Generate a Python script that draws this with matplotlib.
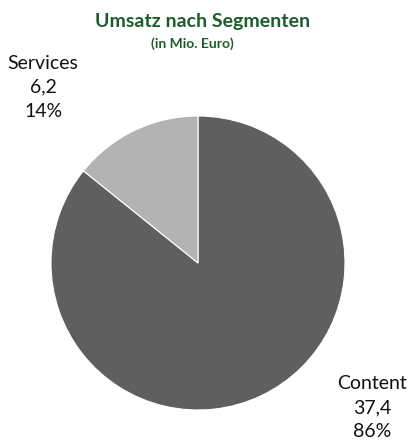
import matplotlib.pyplot as plt

labels = ["Content", "Services"]
values = [37.4, 6.2]
value_text = ["37,4", "6,2"]
pct_text = ["86%", "14%"]
colors = ["#5f5f5f", "#b3b3b3"]

plt.rcParams['font.family'] = ['Lato', 'DejaVu Sans']

W, H = 411, 443
fig = plt.figure(figsize=(W / 100, H / 100), dpi=100)

cx, cy, r = 198, 263, 147
ax = fig.add_axes([(cx - r) / W, (H - cy - r) / H, 2 * r / W, 2 * r / H])
ax.pie(values, colors=colors, startangle=90, counterclock=False,
       radius=1, wedgeprops=dict(linewidth=0.8, edgecolor="white"))
ax.set_xlim(-1, 1)
ax.set_ylim(-1, 1)
ax.set_aspect("equal")
ax.axis("off")

# label positions (data units)
label_pos = {"Content": (1.184, -0.986), "Services": (-1.054, 1.197)}
for lab, v, p in zip(labels, value_text, pct_text):
    x, y = label_pos[lab]
    ax.text(x, y, f"{lab}\n{v}\n{p}", ha="center", va="center",
            fontsize=14, color="#111111", linespacing=1.5, clip_on=False)

fig.text(203 / W, 1 - 21 / H, "Umsatz nach Segmenten", ha="center", va="center",
         fontsize=14, fontweight="bold", color="#1f5c2b")
fig.text(192 / W, 1 - 44 / H, "(in Mio. Euro)", ha="center", va="center",
         fontsize=10, fontweight="bold", color="#1f5c2b")

fig.savefig("out.png", dpi=100)
